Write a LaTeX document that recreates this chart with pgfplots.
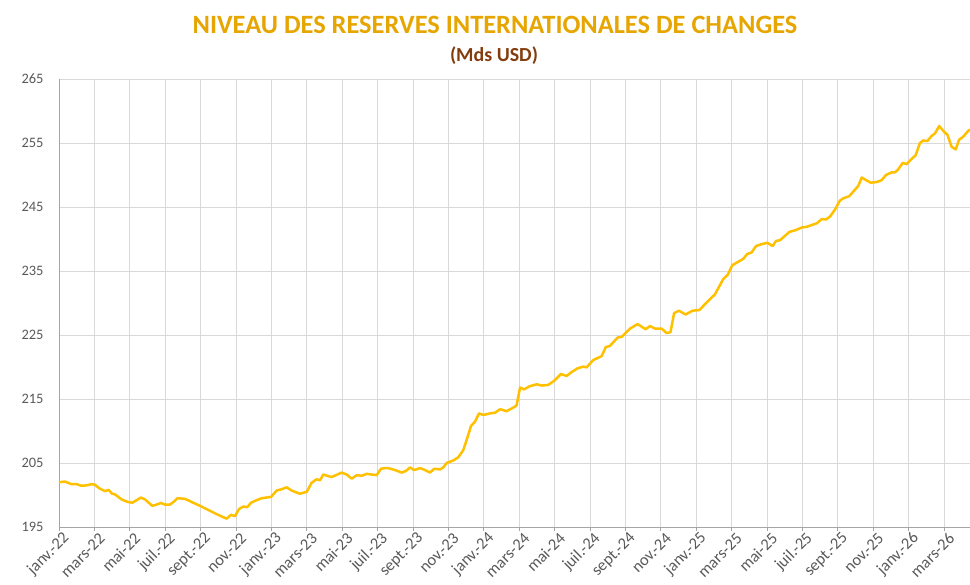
\documentclass[border=0pt]{standalone}
\usepackage{fontspec}
\setmainfont{Carlito}
\usepackage{pgfplots}
\pgfplotsset{compat=1.18}
\definecolor{linegold}{RGB}{255,192,0}
\definecolor{titlegold}{RGB}{230,165,0}
\definecolor{subbrown}{RGB}{132,60,12}
\definecolor{ticktext}{RGB}{89,89,89}
\definecolor{gridc}{RGB}{217,217,217}
\definecolor{axisc}{RGB}{165,165,165}
\begin{document}
\begin{tikzpicture}
\begin{axis}[
  at={(59bp,58bp)}, anchor=south west,
  scale only axis, width=911bp, height=448bp,
  xmin=0, xmax=51.47, ymin=195, ymax=265,
  axis lines=left,
  axis line style={-, draw=axisc, line width=1bp},
  xtick={0,2,...,50},
  xticklabels={janv.-22,mars-22,mai-22,juil.-22,sept.-22,nov.-22,
    janv.-23,mars-23,mai-23,juil.-23,sept.-23,nov.-23,
    janv.-24,mars-24,mai-24,juil.-24,sept.-24,nov.-24,
    janv.-25,mars-25,mai-25,juil.-25,sept.-25,nov.-25,
    janv.-26,mars-26},
  ytick={195,205,...,265},
  grid=major,
  major grid style={draw=gridc, line width=0.8bp},
  tick align=outside,
  major tick length=4bp,
  xtick style={draw=axisc, line width=0.8bp},
  ytick style={draw=none},
  /pgf/number format/assume math mode=true,
  yticklabel style={font=\fontsize{14.5}{16}\selectfont, text=ticktext, xshift=-8bp},
  xticklabel style={font=\fontsize{16.5}{18}\selectfont, text=ticktext,
    rotate=45, anchor=east, inner sep=1bp, xshift=3bp, yshift=-9bp},
  clip=false,
]
\addplot[linegold, line width=2.5bp, line join=round, no marks] coordinates {
(0.00,202.0) (0.34,202.1) (0.70,201.7) (1.00,201.7) (1.24,201.45) (1.56,201.5)
(1.85,201.7) (2.03,201.6) (2.30,201.0) (2.60,200.6) (2.80,200.8) (3.00,200.2)
(3.16,200.1) (3.54,199.3) (3.90,198.9) (4.14,198.8) (4.39,199.2) (4.63,199.6)
(4.86,199.3) (5.27,198.3) (5.52,198.5) (5.76,198.75) (5.99,198.5) (6.27,198.5)
(6.46,198.9) (6.70,199.5) (7.12,199.4) (7.50,198.9) (7.97,198.3) (8.44,197.65)
(8.91,197.0) (9.47,196.3) (9.72,196.9) (9.94,196.7) (10.17,197.8) (10.41,198.2)
(10.64,198.1) (10.85,198.8) (11.17,199.2) (11.45,199.5) (11.98,199.7) (12.30,200.7)
(12.58,200.9) (12.86,201.2) (13.14,200.7) (13.60,200.2) (14.00,200.5) (14.27,201.9)
(14.55,202.45) (14.75,202.3) (14.93,203.2) (15.40,202.8) (15.97,203.5) (16.25,203.2)
(16.54,202.55) (16.82,203.1) (17.10,203.0) (17.38,203.3) (17.95,203.1) (18.19,204.1)
(18.42,204.2) (18.60,204.2) (18.98,203.9) (19.36,203.5) (19.60,203.75) (19.83,204.3)
(20.07,203.9) (20.40,204.2) (20.68,203.9) (20.96,203.5) (21.20,204.1) (21.53,204.0)
(21.71,204.3) (21.90,205.0) (22.28,205.4) (22.56,205.9) (22.84,207.0) (23.03,208.6)
(23.28,210.8) (23.50,211.45) (23.73,212.75) (23.97,212.5) (24.35,212.75) (24.63,212.85)
(24.92,213.4) (25.29,213.1) (25.76,213.8) (25.85,214.0) (26.05,216.8) (26.27,216.5)
(26.60,217.0) (26.99,217.3) (27.27,217.1) (27.64,217.2) (27.98,217.85) (28.36,218.9)
(28.68,218.6) (28.96,219.2) (29.30,219.8) (29.62,220.05) (29.81,219.95) (30.19,221.1)
(30.66,221.7) (30.89,223.1) (31.13,223.3) (31.56,224.6) (31.79,224.7) (32.26,226.0)
(32.69,226.7) (33.15,225.9) (33.39,226.4) (33.67,226.0) (34.05,226.0) (34.33,225.3)
(34.55,225.45) (34.75,228.4) (35.02,228.8) (35.40,228.2) (35.80,228.8) (36.18,228.9)
(36.63,230.2) (37.06,231.35) (37.53,233.75) (37.78,234.4) (38.04,235.9) (38.38,236.45)
(38.66,236.9) (38.88,237.65) (39.13,237.9) (39.38,238.9) (39.70,239.2) (40.02,239.4)
(40.32,238.9) (40.51,239.7) (40.73,239.8) (41.26,241.1) (41.64,241.4) (41.96,241.8)
(42.24,241.9) (42.81,242.45) (43.09,243.1) (43.33,243.05) (43.56,243.5) (43.84,244.6)
(44.12,246.0) (44.31,246.35) (44.65,246.7) (44.92,247.55) (45.16,248.3) (45.35,249.6)
(45.60,249.2) (45.86,248.8) (46.20,248.9) (46.48,249.2) (46.72,250.0) (47.04,250.4)
(47.23,250.4) (47.42,250.9) (47.67,251.9) (47.89,251.7) (48.17,252.5) (48.40,253.1)
(48.64,255.0) (48.83,255.4) (49.06,255.3) (49.30,256.1) (49.49,256.5) (49.73,257.65)
(49.96,256.9) (50.20,256.25) (50.43,254.4) (50.66,254.0) (50.85,255.5) (51.09,256.0)
(51.37,256.9) (51.47,257.1)
};
\end{axis}
\node[font=\fontsize{26.5}{30}\selectfont\bfseries, text=titlegold, inner sep=0pt] at (495bp,560bp) {NIVEAU DES RESERVES INTERNATIONALES DE CHANGES};
\node[font=\fontsize{20}{23}\selectfont\bfseries, text=subbrown, inner sep=0pt] at (494bp,529bp) {(Mds USD)};
\pgfresetboundingbox
\path (0,0) rectangle (970bp,585bp);
\end{tikzpicture}
\end{document}
